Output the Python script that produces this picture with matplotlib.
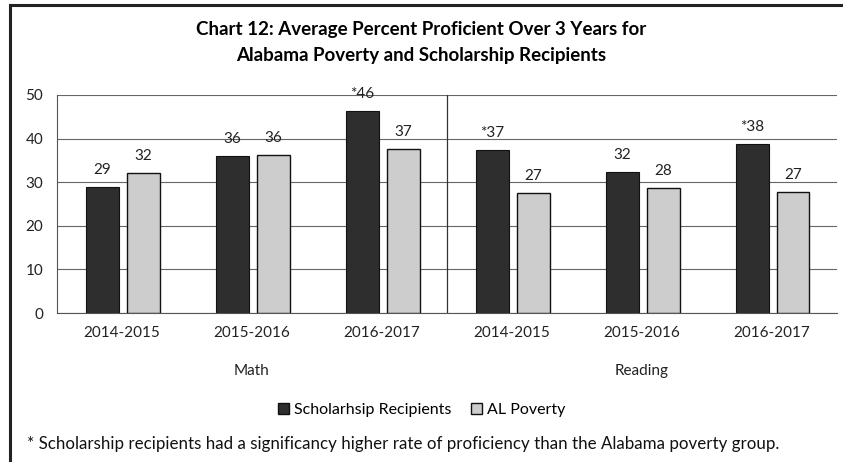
import numpy as np
import matplotlib.pyplot as plt
from matplotlib.lines import Line2D
from matplotlib.patches import Patch

plt.rcParams['font.family'] = ['Lato', 'DejaVu Sans']

# ----------------------------
# Data
# ----------------------------
years = ["2014-2015", "2015-2016", "2016-2017", "2014-2015", "2015-2016", "2016-2017"]
subjects = ["Math", "Reading"]
scholar = [28.9, 36.0, 46.3, 37.4, 32.3, 38.8]
poverty = [32.1, 36.3, 37.6, 27.5, 28.7, 27.8]
scholar_labels = ["29", "36", "*46", "*37", "32", "*38"]
poverty_labels = ["32", "36", "37", "27", "28", "27"]
yticks = [0, 10, 20, 30, 40, 50]

title = ("Chart 12: Average Percent Proficient Over 3 Years for\n"
         "Alabama Poverty and Scholarship Recipients")
footnote = ("* Scholarship recipients had a significancy higher rate of "
            "proficiency than the Alabama poverty group.")

# ----------------------------
# Figure
# ----------------------------
fig = plt.figure(figsize=(8.43, 4.62), dpi=100)
ax = fig.add_axes([0.0676, 0.3225, 0.925, 0.472])

x = np.arange(len(years))
width = 0.25
dark = "#2e2e2e"
light = "#cdcdcd"

ax.bar(x - 0.15, scholar, width, color=dark, edgecolor="#111111", linewidth=0.8, zorder=3)
ax.bar(x + 0.165, poverty, width, color=light, edgecolor="#111111", linewidth=1.0, zorder=3)

for i in range(len(x)):
    ax.annotate(scholar_labels[i], (x[i] - 0.15, scholar[i]), xytext=(0, 7),
                textcoords="offset points", ha="center", va="bottom", fontsize=11, color="#222222")
    ax.annotate(poverty_labels[i], (x[i] + 0.165, poverty[i]), xytext=(0, 7),
                textcoords="offset points", ha="center", va="bottom", fontsize=11, color="#222222")

ax.set_xlim(-0.5, len(x) - 0.5)
ax.set_ylim(0, 50)
ax.set_yticks(yticks)
ax.set_xticks(x)
ax.set_xticklabels(years)
ax.tick_params(axis="both", length=0, labelsize=11, colors="#222222")
ax.tick_params(axis="x", pad=9)
ax.tick_params(axis="y", pad=10)
ax.grid(axis="y", color="#666666", linewidth=0.8, zorder=0)
for s in ["top", "right"]:
    ax.spines[s].set_visible(False)
ax.spines["left"].set_color("#555555")
ax.spines["bottom"].set_color("#555555")
ax.axvline(2.5, color="#333333", linewidth=0.9, zorder=2)

# subject labels under the year labels
for j, name in enumerate(subjects):
    ax.text(1 + 3 * j, -0.265, name, transform=ax.get_xaxis_transform(),
            ha="center", va="center", fontsize=11, color="#222222")

fig.text(0.5, 0.908, title, ha="center", va="center", fontsize=13.5,
         fontweight="bold", linespacing=1.6)

handles = [Patch(facecolor=dark, edgecolor="#111111"),
           Patch(facecolor=light, edgecolor="#111111")]
fig.legend(handles, ["Scholarhsip Recipients", "AL Poverty"], loc="center",
           bbox_to_anchor=(0.5, 0.113), ncol=2, frameon=False, fontsize=11.5,
           handlelength=0.7, handleheight=0.7, handletextpad=0.3, columnspacing=1.2)

fig.text(0.032, 0.04, footnote, ha="left", va="center", fontsize=12.2, color="#111111")

# outer box lines
fig.add_artist(Line2D([0.012, 0.012], [0, 0.99], color="#222222", linewidth=2.2))
fig.add_artist(Line2D([0.012, 1.0], [0.99, 0.99], color="#222222", linewidth=2.2))

fig.savefig("out.png", dpi=100)
